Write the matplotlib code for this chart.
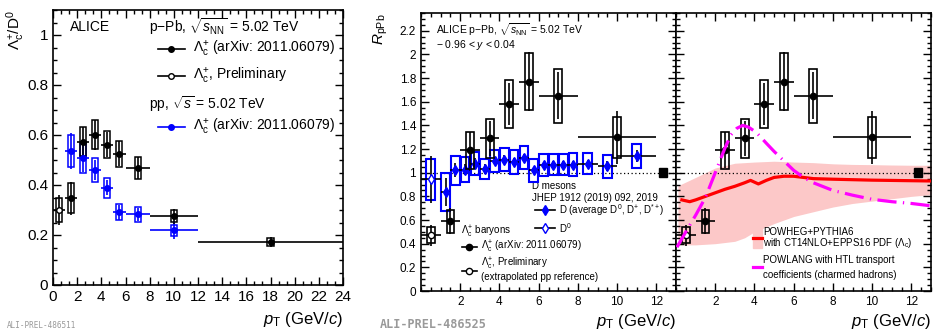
import numpy as np
import matplotlib
matplotlib.use("Agg")
import matplotlib.pyplot as plt
from matplotlib.patches import Rectangle
from matplotlib.lines import Line2D
from matplotlib.ticker import MultipleLocator, FormatStrFormatter

plt.rcParams['font.family'] = ['Liberation Sans', 'DejaVu Sans']
plt.rcParams['mathtext.fontset'] = 'custom'
plt.rcParams['mathtext.rm'] = 'Liberation Sans'
plt.rcParams['mathtext.it'] = 'Liberation Sans:italic'
plt.rcParams['mathtext.bf'] = 'Liberation Sans:bold'

# =========================================================================
# DATA: Lambda_c / D0 ratio (left panel)
# =========================================================================
ratio_ppb_pt = [1.5, 2.5, 3.5, 4.5, 5.5, 7.0, 10.0, 18.0]
ratio_ppb_xerr = [0.5, 0.5, 0.5, 0.5, 0.5, 1.0, 2.0, 6.0]
ratio_ppb_val = [0.347, 0.574, 0.602, 0.562, 0.525, 0.469, 0.276, 0.173]
ratio_ppb_stat = [0.065, 0.06, 0.06, 0.05, 0.05, 0.045, 0.03, 0.02]
ratio_ppb_syst = [0.06, 0.058, 0.057, 0.055, 0.052, 0.045, 0.025, 0.016]

ratio_prel_pt = [0.5]
ratio_prel_xerr = [0.5]
ratio_prel_val = [0.30]
ratio_prel_stat = [0.06]
ratio_prel_syst = [0.047]

ratio_pp_pt = [1.5, 2.5, 3.5, 4.5, 5.5, 7.0, 10.0]
ratio_pp_xerr = [0.5, 0.5, 0.5, 0.5, 0.5, 1.0, 2.0]
ratio_pp_val = [0.536, 0.507, 0.46, 0.389, 0.292, 0.283, 0.22]
ratio_pp_stat = [0.07, 0.055, 0.04, 0.03, 0.03, 0.025, 0.035]
ratio_pp_syst = [0.063, 0.06, 0.047, 0.04, 0.032, 0.03, 0.022]

# =========================================================================
# DATA: R_pPb (middle + right panels)
# =========================================================================
lc_pt = [1.5, 2.5, 3.5, 4.5, 5.5, 7.0, 10.0]
lc_xerr = [0.5, 0.5, 0.5, 0.5, 0.5, 1.0, 2.0]
lc_val = [0.59, 1.19, 1.29, 1.58, 1.77, 1.65, 1.30]
lc_stat = [0.11, 0.15, 0.15, 0.18, 0.25, 0.20, 0.225]
lc_syst = [0.096, 0.155, 0.165, 0.206, 0.243, 0.226, 0.175]

lc_prel_pt = [0.5]
lc_prel_xerr = [0.5]
lc_prel_val = [0.47]
lc_prel_stat = [0.09]
lc_prel_syst = [0.067]

d_pt = [1.25, 1.75, 2.25, 2.75, 3.25, 3.75, 4.25, 4.75, 5.25, 5.75,
        6.25, 6.75, 7.25, 7.75, 8.5, 9.5, 11.0]
d_xerr = [0.25] * 14 + [0.5, 0.5, 1.0]
d_val = [0.838, 1.021, 1.027, 1.077, 1.03, 1.10, 1.111, 1.091, 1.128, 1.021,
         1.063, 1.069, 1.069, 1.069, 1.077, 1.055, 1.139]
d_stat = [0.12, 0.06, 0.05, 0.045, 0.04, 0.035, 0.035, 0.03, 0.03, 0.03,
          0.03, 0.03, 0.03, 0.03, 0.03, 0.04, 0.05]
d_syst = [0.162, 0.122, 0.108, 0.10, 0.085, 0.095, 0.10, 0.098, 0.10, 0.098,
          0.092, 0.092, 0.092, 0.095, 0.087, 0.098, 0.103]

d0_pt = [0.5]
d0_xerr = [0.5]
d0_val = [0.943]
d0_stat = [0.2]
d0_syst = [0.175]

norm_pt = 12.35
norm_unc = 0.04

# POWHEG+PYTHIA6 band and central curve
powheg_pt = [0.3, 0.7, 1.0, 1.5, 2.0, 2.5, 3.0, 3.5, 3.8, 4.2, 4.6, 5.0,
             5.5, 6.0, 7.0, 8.0, 10.0, 13.0]
powheg_val = [0.77, 0.755, 0.77, 0.80, 0.83, 0.86, 0.885, 0.915, 0.935,
              0.905, 0.935, 0.96, 0.97, 0.97, 0.95, 0.945, 0.937, 0.93]
band_pt = [0.1, 1.0, 2.0, 3.0, 3.5, 4.0, 5.0, 6.0, 7.0, 8.0, 9.0, 10.0,
           11.0, 12.0, 13.0]
band_lo = [0.39, 0.39, 0.40, 0.42, 0.45, 0.50, 0.57, 0.63, 0.67, 0.71,
           0.74, 0.76, 0.78, 0.80, 0.815]
band_hi = [0.89, 0.96, 1.04, 1.08, 1.085, 1.09, 1.097, 1.09, 1.085, 1.075,
           1.07, 1.068, 1.065, 1.063, 1.063]

# POWLANG HTL
powlang_pt = [0.05, 0.5, 1.0, 1.5, 2.0, 2.5, 2.8, 3.1, 3.4, 3.7, 4.1, 4.6,
              5.0, 5.5, 6.0, 6.5, 7.0, 8.0, 9.0, 10.0, 11.0, 12.0, 13.0]
powlang_val = [0.37, 0.50, 0.64, 0.79, 1.00, 1.21, 1.32, 1.375, 1.40, 1.385,
               1.34, 1.25, 1.18, 1.10, 1.02, 0.96, 0.915, 0.85, 0.81, 0.775,
               0.755, 0.74, 0.72]

BLUE = '#0000ff'
PINK = '#fcc8c8'
RED = '#ff0000'
MAGENTA = '#ff00ff'
LEG_FS = 7


def draw_points(ax, x, xerr, y, stat, syst, hw, color, ecolor, marker,
                mfc, ms, box_color, box_lw, z=5):
    for xi, yi, si in zip(x, y, syst):
        ax.add_patch(Rectangle((xi - hw, yi - si), 2 * hw, 2 * si, fill=False,
                               ec=box_color, lw=box_lw, zorder=z))
    ax.errorbar(x, y, xerr=xerr, yerr=stat, fmt=marker, color=color,
                ecolor=ecolor, mfc=mfc, mec=color, ms=ms, elinewidth=1.2,
                capsize=0, zorder=z + 1)


def style_axis(ax, labelsize):
    ax.tick_params(which='both', direction='in', top=True, right=True,
                   labelsize=labelsize, width=1.0)
    ax.tick_params(which='major', length=6)
    ax.tick_params(which='minor', length=3)
    for s in ax.spines.values():
        s.set_linewidth(1.2)


fig = plt.figure(figsize=(9.36, 3.34), dpi=100)

# =========================================================================
# LEFT PANEL
# =========================================================================
axl = fig.add_axes([53 / 936, 1 - 285 / 334, 290 / 936, 275 / 334])
draw_points(axl, ratio_pp_pt, ratio_pp_xerr, ratio_pp_val, ratio_pp_stat,
            ratio_pp_syst, 0.25, BLUE, BLUE, 'o', BLUE, 4, BLUE, 1.1)
draw_points(axl, ratio_ppb_pt, ratio_ppb_xerr, ratio_ppb_val, ratio_ppb_stat,
            ratio_ppb_syst, 0.25, 'k', 'k', 'o', 'k', 4, 'k', 1.1)
draw_points(axl, ratio_prel_pt, ratio_prel_xerr, ratio_prel_val,
            ratio_prel_stat, ratio_prel_syst, 0.25, 'k', 'k', 'o', 'white',
            4, 'k', 1.1)
axl.set_xlim(0, 24)
axl.set_ylim(0, 1.1)
axl.xaxis.set_major_locator(MultipleLocator(2))
axl.xaxis.set_minor_locator(MultipleLocator(2 / 3))
axl.yaxis.set_major_locator(MultipleLocator(0.2))
axl.yaxis.set_minor_locator(MultipleLocator(0.05))
axl.yaxis.set_major_formatter(FormatStrFormatter('%g'))
style_axis(axl, 11)
axl.set_ylabel(r'$\Lambda_{\rm c}^{+}$/D$^{0}$', fontsize=11, loc='top')
axl.yaxis.set_label_coords(-0.09, 1.0)
axl.set_xlabel(r'$p_{\rm T}$ (GeV/$c$)', fontsize=12, loc='right')
axl.xaxis.set_label_coords(1.0, -0.09)

axl.text(0.058, 0.938, 'ALICE', transform=axl.transAxes, fontsize=10,
         va='center')
axl.text(0.331, 0.938, r'p$-$Pb, $\sqrt{s_{\rm NN}}$ = 5.02 TeV',
         transform=axl.transAxes, fontsize=10, va='center')
axl.text(0.331, 0.658, r'pp, $\sqrt{s}$ = 5.02 TeV',
         transform=axl.transAxes, fontsize=10, va='center')
left_entries = [(0.858, 'k', 'k', r'$\Lambda_{\rm c}^{+}$ (arXiv: 2011.06079)'),
                (0.760, 'k', 'white', r'$\Lambda_{\rm c}^{+}$, Preliminary'),
                (0.575, BLUE, BLUE, r'$\Lambda_{\rm c}^{+}$ (arXiv: 2011.06079)')]
for yy, c, fc, label in left_entries:
    axl.add_line(Line2D([0.362, 0.455], [yy, yy], color=c, lw=1.2,
                        transform=axl.transAxes))
    axl.add_line(Line2D([0.408], [yy], marker='o', color=c, mfc=fc, mec=c,
                        ms=4, transform=axl.transAxes))
    axl.text(0.483, yy, label, transform=axl.transAxes, fontsize=10,
             va='center')

# =========================================================================
# MIDDLE + RIGHT PANELS
# =========================================================================
axm = fig.add_axes([421 / 936, 1 - 291 / 334, 255 / 936, 278 / 334])
axr = fig.add_axes([676 / 936, 1 - 291 / 334, 255 / 936, 278 / 334])

for ax in (axm, axr):
    ax.axhline(1.0, color='k', ls=(0, (1, 2)), lw=0.9, zorder=2)
    ax.add_patch(Rectangle((norm_pt - 0.2, 1 - norm_unc), 0.4, 2 * norm_unc,
                           color='k', zorder=6))
    ax.set_xlim(0, 13)
    ax.set_ylim(0, 2.35)
    ax.xaxis.set_major_locator(MultipleLocator(2))
    ax.xaxis.set_minor_locator(MultipleLocator(0.5))
    ax.yaxis.set_major_locator(MultipleLocator(0.2))
    ax.yaxis.set_minor_locator(MultipleLocator(0.05))
    ax.yaxis.set_major_formatter(FormatStrFormatter('%g'))
    style_axis(ax, 8.5)
    ax.set_xticks(np.arange(2, 13, 2))
    ax.set_xlabel(r'$p_{\rm T}$ (GeV/$c$)', fontsize=12, loc='right')
    ax.xaxis.set_label_coords(1.0, -0.075)

draw_points(axm, d_pt, d_xerr, d_val, d_stat, d_syst, 0.22, BLUE, 'k', 'd',
            BLUE, 5.5, BLUE, 1.5)
draw_points(axm, d0_pt, d0_xerr, d0_val, d0_stat, d0_syst, 0.22, BLUE, 'k',
            'd', 'white', 5.5, BLUE, 1.5)
for ax in (axm, axr):
    draw_points(ax, lc_pt, lc_xerr, lc_val, lc_stat, lc_syst, 0.2, 'k', 'k',
                'o', 'k', 4.5, 'k', 1.2, z=7)
    draw_points(ax, lc_prel_pt, lc_prel_xerr, lc_prel_val, lc_prel_stat,
                lc_prel_syst, 0.2, 'k', 'k', 'o', 'white', 4.5, 'k', 1.2, z=7)

axm.set_ylabel(r'$R_{\rm pPb}$', fontsize=11, loc='top')
axm.yaxis.set_label_coords(-0.12, 1.0)

axm.text(0.059, 0.939, r'ALICE p$-$Pb, $\sqrt{s_{\rm NN}}$ = 5.02 TeV',
         transform=axm.transAxes, fontsize=7.5, va='center')
axm.text(0.059, 0.885, r'$-$ 0.96 < $y$ < 0.04', transform=axm.transAxes,
         fontsize=7.5, va='center')
axm.text(0.435, 0.376, 'D mesons', transform=axm.transAxes, fontsize=LEG_FS,
         va='center')
axm.text(0.435, 0.333, 'JHEP 1912 (2019) 092, 2019', transform=axm.transAxes,
         fontsize=LEG_FS, va='center')
for yy, fc, label in [(0.291, BLUE, r'D (average D$^{0}$, D$^{+}$, D$^{*+}$)'),
                      (0.227, 'white', r'D$^{0}$')]:
    axm.add_line(Line2D([0.447, 0.525], [yy, yy], color='k', lw=1.2,
                        transform=axm.transAxes))
    axm.add_line(Line2D([0.486], [yy], marker='d', color=BLUE, mfc=fc,
                        mec=BLUE, ms=5.5, transform=axm.transAxes))
    axm.text(0.541, yy, label, transform=axm.transAxes, fontsize=LEG_FS,
             va='center')

axm.text(0.156, 0.212, r'$\Lambda_{\rm c}^{+}$ baryons',
         transform=axm.transAxes, fontsize=LEG_FS, va='center')
for yy, fc in [(0.157, 'k'), (0.072, 'white')]:
    axm.add_line(Line2D([0.161, 0.22], [yy, yy], color='k', lw=1.2,
                        transform=axm.transAxes))
    axm.add_line(Line2D([0.19], [yy], marker='o', color='k', mfc=fc,
                        mec='k', ms=4.5, transform=axm.transAxes))
axm.text(0.235, 0.157, r'$\Lambda_{\rm c}^{+}$ (arXiv: 2011.06079)',
         transform=axm.transAxes, fontsize=LEG_FS, va='center')
axm.text(0.235, 0.099, r'$\Lambda_{\rm c}^{+}$, Preliminary',
         transform=axm.transAxes, fontsize=LEG_FS, va='center')
axm.text(0.235, 0.05, '(extrapolated pp reference)',
         transform=axm.transAxes, fontsize=LEG_FS, va='center')

# right panel: model curves
axr.fill_between(band_pt, band_lo, band_hi, color=PINK, lw=0, zorder=1)
axr.plot(powheg_pt, powheg_val, color=RED, lw=2.3, zorder=3)
axr.plot(powlang_pt, powlang_val, color=MAGENTA, lw=2.3,
         dashes=(6, 2, 0.4, 2), zorder=9)
axr.tick_params(labelleft=False)

axr.add_patch(Rectangle((0.302, 0.155), 0.035, 0.075, color=PINK,
                        transform=axr.transAxes, zorder=10))
axr.add_line(Line2D([0.302, 0.337], [0.19, 0.19], color=RED, lw=2.3,
                    transform=axr.transAxes, zorder=11))
axr.text(0.341, 0.214, 'POWHEG+PYTHIA6', transform=axr.transAxes,
         fontsize=LEG_FS, va='center')
axr.text(0.341, 0.174, r'with CT14NLO+EPPS16 PDF ($\Lambda_{\rm c}$)',
         transform=axr.transAxes, fontsize=LEG_FS, va='center')
axr.add_line(Line2D([0.302, 0.337], [0.086, 0.086], color=MAGENTA, lw=2.3,
                    transform=axr.transAxes))
axr.text(0.341, 0.112, 'POWLANG with HTL transport', transform=axr.transAxes,
         fontsize=LEG_FS, va='center')
axr.text(0.341, 0.058, 'coefficients (charmed hadrons)',
         transform=axr.transAxes, fontsize=LEG_FS, va='center')

fig.text(7 / 936, 1 - 326 / 334, 'ALI-PREL-486511', fontsize=5.5,
         family='DejaVu Sans Mono', color='#999999', va='center')
fig.text(380 / 936, 1 - 324 / 334, 'ALI-PREL-486525', fontsize=8.5,
         family='DejaVu Sans Mono', color='#999999', va='center',
         weight='bold')

fig.savefig('out.png', dpi=100)
